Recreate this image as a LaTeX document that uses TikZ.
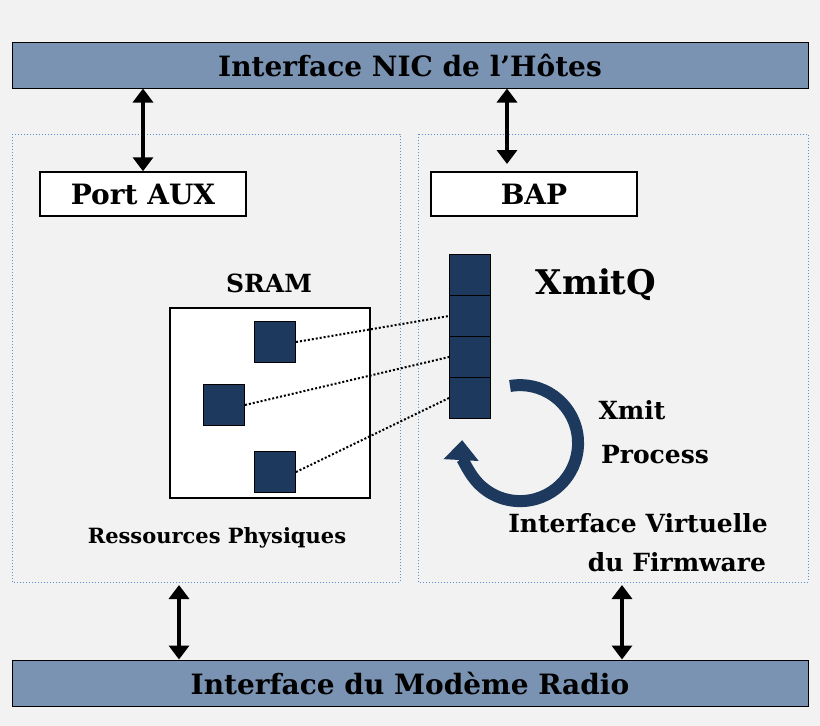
\documentclass[tikz,border=0pt]{standalone}
\usepackage{fontspec}
\setmainfont{DejaVu Serif}
\usetikzlibrary{arrows.meta}
\definecolor{barblue}{HTML}{7A93B3}
\definecolor{navy}{HTML}{1D3A5E}
\definecolor{dotblue}{HTML}{5B8FD0}
\tikzset{
  bar/.style={draw, line width=1pt, fill=barblue, minimum width=796pt, minimum height=46pt, font=\bfseries\fontsize{28}{32}\selectfont},
  port/.style={draw, line width=1.5pt, fill=white, minimum width=206pt, minimum height=44pt, font=\bfseries\fontsize{28}{32}\selectfont},
  zone/.style={draw=dotblue, line width=1pt, dotted},
  cell/.style={draw=black, line width=1pt, fill=navy, minimum size=41pt, inner sep=0pt},
  link/.style={line width=3.5pt, {Triangle[length=14pt,width=20pt]}-{Triangle[length=14pt,width=20pt]}},
  lbl/.style={font=\bfseries\fontsize{25}{30}\selectfont}
}
\begin{document}
\begin{tikzpicture}[x=1pt, y=-1pt]
    \fill[gray!10] (0,0) rectangle (820,726);
    \useasboundingbox (0,0) rectangle (820,726);
    % bars
    \node[bar] (host) at (410,65) {Interface NIC de l'Hôtes};
    \node[bar] (modem) at (410,683) {Interface du Modème Radio};
    % zones
    \draw[zone] (12,134) rectangle (400,582);
    \draw[zone] (418,134) rectangle (808,582);
    \node[port] (aux) at (143,194) {Port AUX};
    \node[port] (bap) at (534,194) {BAP};
    \coordinate (l1) at (179,585);
    \coordinate (r1) at (622,585);
    \draw[link] (host.south -| aux) -- (aux.north);
    \draw[link] (host.south -| 507,0) -- (507,164);
    \draw[link] (l1) -- (modem.north -| l1);
    \draw[link] (r1) -- (modem.north -| r1);
    % SRAM
    \node[lbl] (sramlbl) at (269,283) {SRAM};
    \node[draw, line width=1.5pt, fill=white, minimum width=200pt, minimum height=190pt] (sram) at (270,403) {};
    \node[cell] (s1) at (275,342) {};
    \node[cell] (s2) at (224,405) {};
    \node[cell] (s3) at (275,472) {};
    \node[font=\bfseries\fontsize{21}{25}\selectfont] (res) at (217,538) {Ressources Physiques};
    % XmitQ
    \node[cell] (q1) at (470,275) {};
    \node[cell] (q2) at (470,316) {};
    \node[cell] (q3) at (470,357) {};
    \node[cell] (q4) at (470,398) {};
    \node[font=\bfseries\fontsize{34}{38}\selectfont] (xq) at (596,285) {XmitQ};
    \draw[dotted, line width=2pt] (s1.east) -- (q2.west);
    \draw[dotted, line width=2pt] (s2.east) -- (q3.west);
    \draw[dotted, line width=2pt] (s3.east) -- (q4.west);
    % process
    \draw[navy, line width=12pt, -{Triangle[length=20pt,width=34pt]}]
        (510,386) arc[start angle=-100, end angle=183, radius=58];
    \node[lbl] (xm) at (632,410) {Xmit};
    \node[lbl] (pr) at (655,455) {Process};
    \node[lbl] (iv) at (638,523) {Interface Virtuelle};
    \node[lbl] (fw) at (677,562) {du Firmware};
\end{tikzpicture}
\end{document}
